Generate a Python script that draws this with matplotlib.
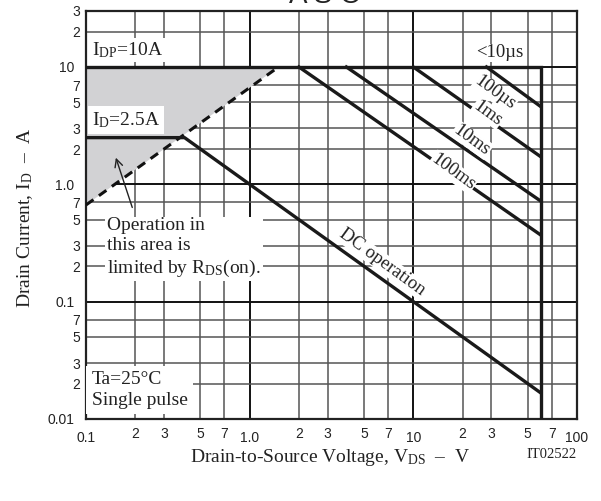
import numpy as np
import matplotlib
matplotlib.use("Agg")
import matplotlib.pyplot as plt
from matplotlib.ticker import FixedLocator, FixedFormatter, NullFormatter

plt.rcParams['mathtext.fontset'] = 'custom'
plt.rcParams['mathtext.rm'] = 'Liberation Serif'
plt.rcParams['mathtext.it'] = 'Liberation Serif'

# Safe operating area data (V, A)
vds_limit = [0.1, 60, 60]
id_limit = [10, 10, 0.01]

rds_v = [0.1, 1.5]
rds_i = [0.667, 10]

dc_v = [0.1, 0.4, 60]
dc_i = [2.5, 2.5, 0.0167]

pulse_v = {
    '100us': [28, 60],
    '1ms': [10, 60],
    '10ms': [3.9, 60],
    '100ms': [2.0, 60],
}
pulse_i = {
    '100us': [10, 4.6],
    '1ms': [10, 1.72],
    '10ms': [10, 0.72],
    '100ms': [10, 0.37],
}

x_major = [0.1, 1, 10, 100]
x_major_lbl = ['0.1', '1.0', '10', '100']
x_minor = [0.2, 0.3, 0.5, 0.7, 2, 3, 5, 7, 20, 30, 50, 70]
x_minor_lbl = ['2', '3', '5', '7'] * 3
y_major = [0.01, 0.1, 1, 10]
y_major_lbl = ['0.01', '0.1', '1.0', '10']
y_minor = [0.02, 0.03, 0.05, 0.07, 0.2, 0.3, 0.5, 0.7, 2, 3, 5, 7, 20, 30]
y_minor_lbl = ['2', '3', '5', '7'] * 3 + ['2', '3']

serif = 'Liberation Serif'
sans = 'Liberation Sans'

fig = plt.figure(figsize=(6.01, 5.01), dpi=100)
ax = fig.add_axes([86 / 601, 82 / 501, 491 / 601, 408 / 501])
ax.set_xscale('log')
ax.set_yscale('log')
ax.set_xlim(0.1, 100)
ax.set_ylim(0.01, 30)

ax.xaxis.set_major_locator(FixedLocator(x_major))
ax.xaxis.set_major_formatter(FixedFormatter(x_major_lbl))
ax.xaxis.set_minor_locator(FixedLocator(x_minor))
ax.xaxis.set_minor_formatter(FixedFormatter(x_minor_lbl))
ax.yaxis.set_major_locator(FixedLocator(y_major))
ax.yaxis.set_major_formatter(FixedFormatter(y_major_lbl))
ax.yaxis.set_minor_locator(FixedLocator(y_minor))
ax.yaxis.set_minor_formatter(FixedFormatter(y_minor_lbl))

ax.tick_params(which='both', length=0, labelsize=10, colors='#222')
ax.tick_params(axis='x', which='major', pad=8.5)
ax.tick_params(axis='x', which='minor', pad=5.5)
ax.tick_params(axis='y', which='major', pad=8.5)
ax.tick_params(axis='y', which='minor', pad=4.5)
for lbl in ax.get_xticklabels(which='both') + ax.get_yticklabels(which='both'):
    lbl.set_fontfamily(sans)

ax.grid(True, which='major', color='#111', lw=1.4, zorder=0)
ax.grid(True, which='minor', color='#555', lw=1.1, zorder=0)
ax.set_axisbelow(True)
for s in ax.spines.values():
    s.set_linewidth(1.6)
    s.set_color('#222')

# shaded RDS(on) region
ax.fill([rds_v[0], rds_v[1], rds_v[0]], [rds_i[0], rds_i[1], rds_i[1]],
        color='#d2d2d4', zorder=1, lw=0)
ax.plot(rds_v, rds_i, color='#111', lw=2.2, ls=(0, (3, 2.2)), zorder=3)

lw = 2.4
ax.plot(vds_limit, id_limit, color='#1a1a1a', lw=lw, zorder=3, solid_joinstyle='miter')
ax.plot(dc_v, dc_i, color='#1a1a1a', lw=lw, zorder=3)
for k in pulse_v:
    ax.plot(pulse_v[k], pulse_i[k], color='#1a1a1a', lw=lw, zorder=3)

box = dict(facecolor='white', edgecolor='none', pad=1.5)
tkw = dict(family=serif, fontsize=14, color='#222', zorder=5)

ax.text(0.012, 0.904, r'$\mathrm{I_{DP}}$=10A', transform=ax.transAxes,
        ha='left', va='center', bbox=box, **tkw)
ax.text(0.012, 0.733, r'$\mathrm{I_{D}}$=2.5A', transform=ax.transAxes,
        ha='left', va='center', bbox=dict(facecolor='white', edgecolor='none', pad=3), **tkw)
ax.text(0.043, 0.419, 'Operation in\nthis area is\nlimited by ' + r'$\mathrm{R_{DS}}$(on).',
        transform=ax.transAxes, ha='left', va='center', linespacing=1.25,
        bbox=box, **tkw)
ax.annotate('', xy=(0.059, 0.647), xytext=(0.096, 0.512),
            xycoords='axes fraction', textcoords='axes fraction',
            arrowprops=dict(arrowstyle='->', color='#222', lw=1.0,
                            mutation_scale=14), zorder=5)
ax.text(0.012, 0.071, 'Ta=25°C\nSingle pulse', transform=ax.transAxes,
        ha='left', va='center', linespacing=1.25,
        bbox=dict(facecolor='white', edgecolor='none', pad=4), **tkw)

rkw = dict(family=serif, fontsize=13.5, color='#222', zorder=5,
           ha='center', va='center', bbox=dict(facecolor='white', edgecolor='none', pad=0.5))
ax.text(33.8, 13.2, '<10µs', **rkw)
ax.text(31.5, 6.0, '100µs', rotation=-36, **rkw)
ax.text(28.6, 4.05, '1ms', rotation=-36, **rkw)
ax.text(22.8, 2.38, '10ms', rotation=-36, **rkw)
ax.text(17.5, 1.27, '100ms', rotation=-36, **rkw)
ax.text(6.43, 0.217, 'DC operation', rotation=-36, **rkw)

fig.text(25 / 601, 1 - 218 / 501, r'Drain Current, $\mathrm{I_D}$  –  A', rotation=90,
         ha='center', va='center', family=serif, fontsize=14, color='#222')
fig.text(330 / 601, 1 - 457 / 501, r'Drain-to-Source Voltage, $\mathrm{V_{DS}}$  –  V',
         ha='center', va='center', family=serif, fontsize=14, color='#222')
fig.text(577 / 601, 1 - 455 / 501, 'IT02522', ha='right', va='center',
         family=serif, fontsize=10.5, color='#222')
fig.text(325 / 601, 1 - 3 / 501, 'A S O', ha='center', va='baseline',
         family=sans, fontsize=20, color='#222')

fig.savefig('out.png', dpi=100)
